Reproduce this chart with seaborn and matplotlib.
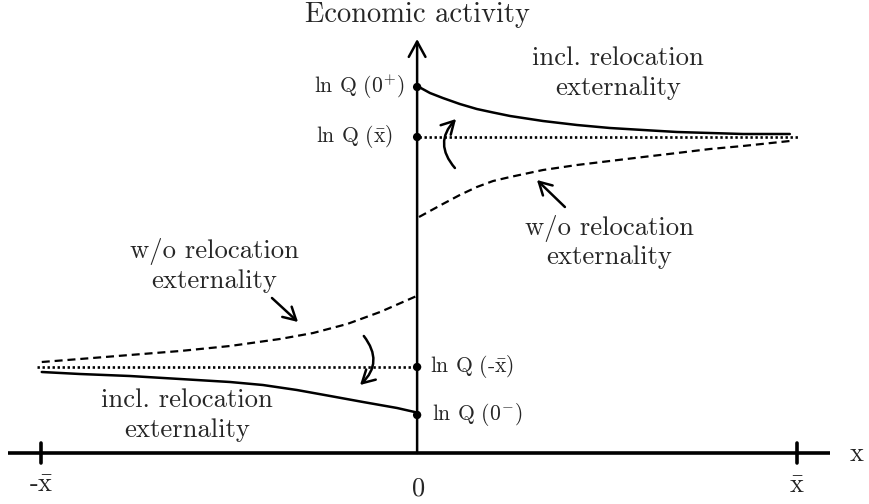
import matplotlib
matplotlib.use("Agg")
import matplotlib.pyplot as plt
import seaborn as sns

# 坐标: x 以 x̄ 为单位, y 为任意单位 (ln Q)
# 右侧 (x > 0)
right_x = [0.0, 0.029, 0.063, 0.108, 0.153, 0.196, 0.241, 0.328, 0.418, 0.505,
           0.593, 0.683, 0.770, 0.857, 0.981]
right_incl = [3.66, 3.60, 3.55, 3.49, 3.44, 3.405, 3.37, 3.32, 3.28, 3.25,
              3.23, 3.21, 3.20, 3.19, 3.19]
right_wo = [2.36, 2.42, 2.49, 2.58, 2.66, 2.72, 2.76, 2.83, 2.88, 2.92,
            2.96, 3.00, 3.04, 3.07, 3.12]

# 左侧 (x < 0)
left_wo_x = [-0.998, -0.897, -0.765, -0.632, -0.5, -0.368, -0.280, -0.190, -0.103, 0.0]
left_wo = [0.91, 0.94, 0.98, 1.02, 1.07, 1.14, 1.20, 1.29, 1.41, 1.58]
left_incl_x = [-0.998, -0.897, -0.765, -0.632, -0.5, -0.413, -0.323, -0.235, -0.148, -0.058, 0.0]
left_incl = [0.81, 0.79, 0.77, 0.74, 0.71, 0.68, 0.63, 0.57, 0.51, 0.45, 0.40]

# 稳态水平 (点线)
lnq_xbar = 3.16
lnq_neg_xbar = 0.86
dotted_right_x = [0.0, 1.008]
dotted_left_x = [-1.011, 0.0]

# 纵轴上的标记点
marker_y = [3.66, 3.16, 0.86, 0.38]
marker_labels = [r"ln Q (0$^{+}$)", r"ln Q ($\bar{\mathrm{x}}$)",
                 r"ln Q (-$\bar{\mathrm{x}}$)", r"ln Q (0$^{-}$)"]

tick_pos = [-1.0, 0.0, 1.0]
tick_labels = [r"-$\bar{\mathrm{x}}$", "0", r"$\bar{\mathrm{x}}$"]

sns.set_theme(style="white")
plt.rcParams["font.family"] = ["cmr10", "DejaVu Serif"]
plt.rcParams["mathtext.fontset"] = "cm"
plt.rcParams["axes.unicode_minus"] = False
plt.rcParams["axes.formatter.use_mathtext"] = True

fig = plt.figure(figsize=(8.69, 5.04), dpi=100)
ax = fig.add_axes([0, 0, 1, 1])
ax.set_xlim(-1.1085, 1.1905)
ax.set_ylim(-0.51, 4.53)
ax.axis("off")

lw = 1.6
dash = (0, (3.6, 2.2))
dot = (0, (0.9, 1.0))
# 曲线
sns.lineplot(x=right_x, y=right_incl, ax=ax, color="black", lw=lw + 0.2)
sns.lineplot(x=right_x, y=right_wo, ax=ax, color="black", lw=lw, ls=dash)
sns.lineplot(x=left_incl_x, y=left_incl, ax=ax, color="black", lw=lw + 0.2)
sns.lineplot(x=left_wo_x, y=left_wo, ax=ax, color="black", lw=lw, ls=dash)
sns.lineplot(x=dotted_right_x, y=[lnq_xbar] * 2, ax=ax, color="black", lw=1.9, ls=dot)
sns.lineplot(x=dotted_left_x, y=[lnq_neg_xbar] * 2, ax=ax, color="black", lw=1.9, ls=dot)

# 坐标轴
ax.plot([-1.087, 1.087], [0, 0], color="black", lw=2.6, solid_capstyle="butt")
ax.annotate("", xy=(-0.005, 4.14), xytext=(-0.005, 0),
            arrowprops=dict(arrowstyle="->,head_length=0.55,head_width=0.3",
                            lw=1.8, color="black", shrinkA=0, shrinkB=0, mutation_scale=20))
for t in [-1.0, 1.0]:
    ax.plot([t, t], [-0.1, 0.1], color="black", lw=2.6)

sns.scatterplot(x=[-0.005] * len(marker_y), y=marker_y, ax=ax, color="black", s=36,
                edgecolor="none", zorder=5)

# 轴标签
for pos, lab, yy in zip(tick_pos, tick_labels, [-0.32, -0.36, -0.33]):
    ax.text(pos, yy, lab, ha="center", va="center", fontsize=19)
ax.text(1.159, -0.01, "x", ha="center", va="center", fontsize=19)
ax.text(-0.005, 4.31, "Economic activity", ha="center", va="baseline", fontsize=20.5)

# ln Q 标签
ax.text(-0.277, marker_y[0], marker_labels[0], ha="left", va="center", fontsize=15.5)
ax.text(-0.272, marker_y[1], marker_labels[1], ha="left", va="center", fontsize=15.5)
ax.text(0.029, marker_y[2], marker_labels[2], ha="left", va="center", fontsize=15.5)
ax.text(0.034, marker_y[3], marker_labels[3], ha="left", va="center", fontsize=15.5)


def two_lines(x, y1, y2, first):
    ax.text(x, y1, first, ha="center", va="baseline", fontsize=19.2)
    ax.text(x, y2, "externality", ha="center", va="baseline", fontsize=19.2)


two_lines(0.526, 3.88, 3.58, "incl. relocation")
two_lines(0.503, 2.18, 1.89, "w/o relocation")
two_lines(-0.542, 1.95, 1.65, "w/o relocation")
two_lines(-0.614, 0.46, 0.16, "incl. relocation")

# 箭头
arrow_kw = dict(arrowstyle="->,head_length=0.45,head_width=0.25", lw=1.8, color="black",
                shrinkA=0, shrinkB=0, mutation_scale=20)
ax.annotate("", xy=(0.098, 3.34), xytext=(0.095, 2.85),
            arrowprops=dict(connectionstyle="arc3,rad=-0.45", **arrow_kw))
ax.annotate("", xy=(-0.156, 0.68), xytext=(-0.146, 1.17),
            arrowprops=dict(connectionstyle="arc3,rad=-0.45", **arrow_kw))
ax.annotate("", xy=(-0.320, 1.31), xytext=(-0.389, 1.55), arrowprops=arrow_kw)
ax.annotate("", xy=(0.312, 2.73), xytext=(0.386, 2.46), arrowprops=arrow_kw)

plt.savefig("out.png", dpi=100)
plt.close()
